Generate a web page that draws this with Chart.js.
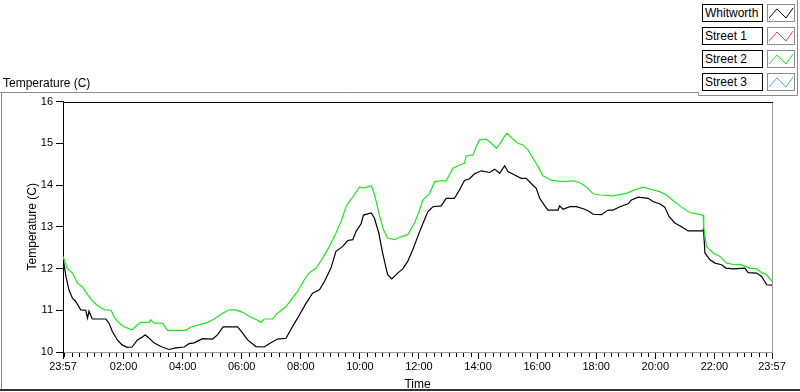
<!DOCTYPE html>
<html>
<head>
<meta charset="utf-8">
<script src="https://cdn.jsdelivr.net/npm/chart.js@4/dist/chart.umd.min.js"></script>
<style>
html,body{margin:0;padding:0;background:#fff;}
#wrap{position:relative;width:800px;height:392px;overflow:hidden;font-family:"Liberation Sans",Arial,sans-serif;}
#c{position:absolute;left:0;top:0;}
.lg-label{position:absolute;left:702px;width:57px;height:16px;border:1px solid #000;font-size:12px;line-height:16px;padding-left:2px;color:#000;background:#fff;white-space:nowrap;}
.lg-swatch{position:absolute;left:767px;width:26px;height:16px;border:1px solid #8c8c8c;background:#fff;}
.lg-swatch svg{position:absolute;left:0;top:0;}
</style>
</head>
<body>
<div id="wrap">
<canvas id="c" width="800" height="392"></canvas>
<div id="legend"></div>
</div>
<script>
// ---- data (hours since 23:57, temperature in C) ----
const whitworthHours = [0,0.1,0.2,0.32,0.43,0.6,0.77,0.83,0.88,0.99,1.45,1.56,1.67,1.84,2.0,2.17,2.34,2.52,2.69,2.78,2.92,3.08,3.31,3.59,3.82,4.1,4.27,4.44,4.72,5.06,5.23,5.42,5.91,6.08,6.25,6.53,6.81,6.98,7.26,7.55,7.77,7.94,8.23,8.45,8.68,8.85,9.07,9.24,9.47,9.64,9.81,9.92,10.09,10.17,10.43,10.54,10.69,10.82,10.99,11.13,11.33,11.5,11.67,11.84,12.01,12.18,12.35,12.52,12.8,12.97,13.25,13.42,13.59,13.76,13.93,14.16,14.44,14.61,14.78,14.95,15.06,15.29,15.51,15.68,15.9,16.02,16.14,16.31,16.42,16.76,16.81,16.93,17.15,17.38,17.66,17.83,17.94,18.23,18.45,18.62,18.85,19.13,19.24,19.47,19.81,19.98,20.2,20.37,20.52,20.71,20.94,21.16,21.66,21.68,21.73,21.9,22.07,22.29,22.44,22.69,23.08,23.19,23.48,23.65,23.82,24];
const whitworthTemps = [12.25,11.81,11.49,11.29,11.21,11.01,11.0,10.81,10.98,10.79,10.79,10.69,10.49,10.29,10.17,10.11,10.12,10.29,10.36,10.41,10.33,10.22,10.13,10.06,10.1,10.12,10.2,10.22,10.32,10.31,10.41,10.6,10.6,10.45,10.29,10.13,10.12,10.2,10.31,10.33,10.61,10.81,11.17,11.41,11.49,11.69,12.01,12.41,12.53,12.67,12.69,12.89,13.07,13.28,13.33,13.21,12.85,12.37,11.85,11.75,11.89,11.99,12.17,12.45,12.77,13.07,13.36,13.48,13.5,13.68,13.68,13.88,14.11,14.15,14.27,14.34,14.3,14.38,14.28,14.46,14.32,14.24,14.16,14.16,14.0,13.92,13.68,13.5,13.4,13.4,13.5,13.42,13.48,13.48,13.42,13.36,13.3,13.29,13.4,13.4,13.48,13.55,13.64,13.71,13.68,13.6,13.55,13.47,13.24,13.09,13.0,12.9,12.9,12.95,12.37,12.21,12.13,12.09,12.01,11.99,12.01,11.9,11.89,11.81,11.61,11.6];

const street2Hours = [0,0.14,0.32,0.49,0.67,0.84,1.01,1.18,1.41,1.63,1.75,1.92,2.08,2.34,2.46,2.63,2.92,2.97,3.08,3.36,3.54,4.16,4.33,4.61,4.89,5.12,5.4,5.63,5.85,6.08,6.31,6.59,6.7,6.81,7.09,7.26,7.55,7.72,7.94,8.17,8.34,8.57,8.79,9.02,9.24,9.41,9.58,9.69,9.86,10.03,10.2,10.43,10.54,10.71,10.85,10.99,11.22,11.39,11.67,11.9,12.07,12.18,12.41,12.58,12.75,12.97,13.2,13.42,13.59,13.65,13.88,13.99,14.1,14.33,14.5,14.67,14.78,14.95,15.03,15.23,15.4,15.57,15.74,15.91,16.08,16.25,16.53,16.93,17.26,17.49,17.71,17.94,18.17,18.62,19.07,19.3,19.63,19.98,20.2,20.43,20.65,20.94,21.22,21.44,21.67,21.69,21.78,22.01,22.24,22.46,22.75,22.92,23.25,23.48,23.65,23.82,24];
const street2Temps = [12.29,12.01,11.89,11.65,11.55,11.37,11.21,11.11,11.01,11.0,10.81,10.68,10.6,10.53,10.61,10.71,10.71,10.77,10.69,10.69,10.52,10.52,10.6,10.65,10.71,10.79,10.93,11.01,11.01,10.95,10.85,10.76,10.71,10.79,10.79,10.93,11.09,11.25,11.45,11.73,11.9,12.01,12.25,12.53,12.85,13.12,13.48,13.6,13.76,13.95,13.93,13.98,13.79,13.28,12.93,12.73,12.69,12.75,12.81,13.09,13.4,13.64,13.8,14.08,14.1,14.1,14.4,14.48,14.52,14.7,14.72,14.92,15.08,15.1,15.0,14.88,14.98,15.17,15.24,15.1,15.0,14.96,14.84,14.64,14.44,14.22,14.11,14.08,14.1,14.06,13.96,13.79,13.76,13.74,13.8,13.87,13.95,13.88,13.84,13.76,13.63,13.47,13.34,13.31,13.28,12.97,12.53,12.37,12.29,12.13,12.09,12.1,12.01,11.99,11.9,11.85,11.69];

const street1Hours = [];
const street1Temps = [];
const street3Hours = [];
const street3Temps = [];

const seriesNames = ['Whitworth', 'Street 1', 'Street 2', 'Street 3'];
const seriesColors = ['#000000', '#ff3c3c', '#1ee61e', '#3cb4f0'];

const tickHours = [0, 2.05, 4.05, 6.05, 8.05, 10.05, 12.05, 14.05, 16.05, 18.05, 20.05, 22.05, 24];
const tickLabels = ['23:57','02:00','04:00','06:00','08:00','10:00','12:00','14:00','16:00','18:00','20:00','22:00','23:57'];
const minorTickStart = 0.05, minorTickStep = 0.25, minorTickCount = 96;

const yMin = 10, yMax = 16;

// ---- build ----
function pts(h, t) { return h.map((x, i) => ({x: x, y: t[i]})); }
const allSeries = [[whitworthHours, whitworthTemps],[street1Hours, street1Temps],[street2Hours, street2Temps],[street3Hours, street3Temps]];
const drawOrder = [1, 3, 2, 0];

function isMajor(v) { return tickHours.some(h => Math.abs(h - v) < 1e-6); }

Chart.defaults.font.family = '"Liberation Sans", Arial, sans-serif';
Chart.defaults.color = '#000';

const framePlugin = {
  id: 'frame',
  beforeDraw(chart) {
    const c = chart.ctx;
    c.save();
    c.fillStyle = '#fff';
    c.fillRect(0, 0, chart.width, chart.height);
    c.lineWidth = 1;
    c.strokeStyle = '#8c8c8c';
    c.beginPath();
    c.moveTo(0, 92.5); c.lineTo(698.5, 92.5); c.lineTo(698.5, 95.5); c.lineTo(797.5, 95.5); c.lineTo(797.5, 0);
    c.stroke();
    c.beginPath();
    c.moveTo(1.5, 92.5); c.lineTo(1.5, 390);
    c.stroke();
    c.strokeStyle = '#333';
    c.lineWidth = 2;
    c.beginPath();
    c.moveTo(0, 390); c.lineTo(800, 390);
    c.stroke();
    c.restore();
  },
  afterDraw(chart) {
    const a = chart.chartArea, c = chart.ctx, xs = chart.scales.x;
    c.save();
    c.lineWidth = 1;
    c.strokeStyle = '#000';
    c.beginPath();
    c.moveTo(Math.round(a.left), Math.round(a.top) + 0.5);
    c.lineTo(Math.round(a.right) + 1, Math.round(a.top) + 0.5);
    c.stroke();
    // minor ticks on the time axis
    c.beginPath();
    for (let k = 0; k < minorTickCount; k++) {
      const v = minorTickStart + minorTickStep * k;
      if (isMajor(Math.round(v * 1000) / 1000)) continue;
      const px = Math.round(xs.getPixelForValue(v)) + 0.5;
      c.moveTo(px, Math.round(a.bottom) + 1);
      c.lineTo(px, Math.round(a.bottom) + 5);
    }
    c.stroke();
    c.strokeStyle = '#9a9a9a';
    c.beginPath();
    c.moveTo(Math.round(a.right) + 0.5, Math.round(a.top) + 1);
    c.lineTo(Math.round(a.right) + 0.5, Math.round(a.bottom) + 1);
    c.stroke();
    c.restore();
  }
};

new Chart(document.getElementById('c'), {
  type: 'line',
  data: {
    datasets: drawOrder.map(i => ({
      label: seriesNames[i],
      data: pts(allSeries[i][0], allSeries[i][1]),
      borderColor: seriesColors[i],
      backgroundColor: seriesColors[i],
      borderWidth: 1.2,
      pointRadius: 0,
      tension: 0,
      fill: false
    }))
  },
  options: {
    responsive: false,
    animation: false,
    events: [],
    layout: { padding: { left: 3, right: 28, top: 0, bottom: 0 } },
    plugins: {
      legend: { display: false },
      tooltip: { enabled: false },
      title: {
        display: true,
        text: 'Temperature (C)',
        align: 'start',
        color: '#000',
        font: { size: 12, weight: 'normal' },
        padding: { top: 76, bottom: 11.1 }
      }
    },
    scales: {
      x: {
        type: 'linear',
        min: 0, max: 24,
        afterFit(scale) { scale.height = 40; },
        afterBuildTicks(scale) {
          scale.ticks = tickHours.map(h => ({ value: h }));
        },
        ticks: {
          autoSkip: false,
          maxRotation: 0,
          minRotation: 0,
          padding: 1,
          color: '#000',
          font: { size: 11 },
          callback(value) {
            const i = tickHours.findIndex(h => Math.abs(h - value) < 1e-6);
            return i >= 0 ? tickLabels[i] : '';
          }
        },
        grid: {
          drawOnChartArea: false,
          drawTicks: true,
          tickLength: 7,
          tickColor: '#000',
          tickWidth: 1
        },
        border: { display: true, color: '#9a9a9a', width: 1 },
        title: {
          display: true,
          text: 'Time',
          color: '#000',
          font: { size: 12 },
          padding: { top: 0, bottom: 0 }
        }
      },
      y: {
        type: 'linear',
        min: yMin, max: yMax,
        afterFit(scale) { scale.width = 60; },
        ticks: {
          stepSize: 1,
          padding: 3,
          color: '#000',
          font: { size: 11 }
        },
        grid: {
          drawOnChartArea: false,
          drawTicks: true,
          tickLength: 7,
          tickColor: '#000'
        },
        border: { display: true, color: '#000', width: 1 },
        title: {
          display: true,
          text: 'Temperature (C)',
          color: '#000',
          font: { size: 12 },
          padding: { top: 22, bottom: 0 }
        }
      }
    }
  },
  plugins: [framePlugin]
});

// ---- legend (HTML) ----
const legendEl = document.getElementById('legend');
const rowTops = [4, 27, 50, 73];
seriesNames.forEach((name, i) => {
  const lab = document.createElement('div');
  lab.className = 'lg-label';
  lab.style.top = rowTops[i] + 'px';
  lab.textContent = name;
  legendEl.appendChild(lab);
  const sw = document.createElement('div');
  sw.className = 'lg-swatch';
  sw.style.top = rowTops[i] + 'px';
  sw.innerHTML = '<svg width="26" height="16"><polyline points="1,13 9,4 18,13 25,3" fill="none" stroke="' + seriesColors[i] + '" stroke-width="1"/></svg>';
  legendEl.appendChild(sw);
});
</script>
</body>
</html>
